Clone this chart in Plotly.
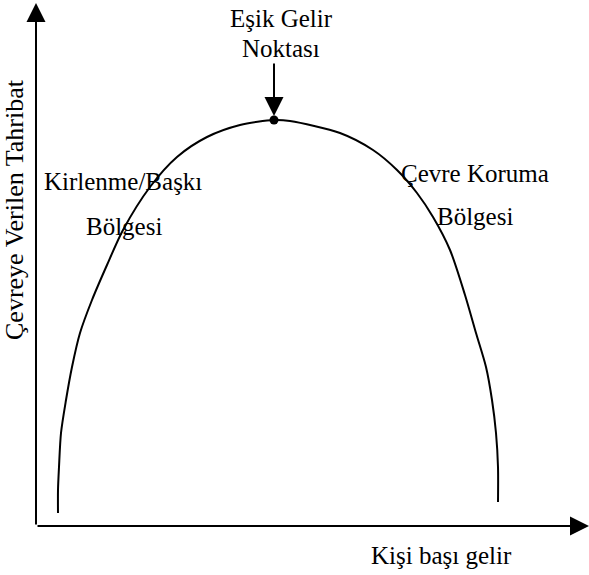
import plotly.graph_objects as go

# Environmental Kuznets curve (arbitrary units, origin at axes crossing)
income = [22, 22, 23, 25, 30, 36, 44, 56, 71, 87, 114, 141, 171, 204, 238,
          254, 304, 337, 361, 381, 397, 414, 429, 440, 450, 456, 460, 462, 462]
damage = [13, 36, 59, 93, 126, 159, 193, 226, 261, 296, 339, 369, 389, 401, 406,
          405, 393, 376, 356, 333, 309, 276, 231, 193, 159, 126, 93, 59, 24]

peak_x = [238]
peak_y = [406]

# visible range of the canvas (axes cross at 0,0)
x_range = [-36, 553]
y_range = [-49, 526]
x_axis_end = 553
y_axis_end = 523

title_y = "Çevreye Verilen Tahribat"
title_x = "Kişi başı gelir"
peak_label = ["Eşik Gelir", "Noktası"]
left_label = ["Kirlenme/Başkı", "Bölgesi"]
right_label = ["Çevre Koruma", "Bölgesi"]

FONT = dict(family="Liberation Serif", size=25, color="black")

fig = go.Figure()
fig.add_trace(go.Scatter(x=income, y=damage, mode="lines",
                         line=dict(color="black", width=2, shape="spline", smoothing=0.8),
                         hoverinfo="skip", showlegend=False))
fig.add_trace(go.Scatter(x=peak_x, y=peak_y, mode="markers",
                         marker=dict(color="black", size=9),
                         hoverinfo="skip", showlegend=False, cliponaxis=False))

ARROW = dict(xref="x", yref="y", axref="x", ayref="y", text="", showarrow=True,
             arrowhead=2, arrowsize=1.9, arrowwidth=2, arrowcolor="black")
ann = []
ann.append(dict(x=0, y=y_axis_end, ax=0, ay=0, **ARROW))
ann.append(dict(x=x_axis_end, y=0, ax=0, ay=0, **ARROW))
ann.append(dict(x=peak_x[0], y=peak_y[0] + 4, ax=peak_x[0], ay=peak_y[0] + 58, **ARROW))


def txt(s, x, y, angle=0, size=25):
    f = dict(FONT, size=size)
    return dict(x=x, y=y, xref="x", yref="y", text=s, showarrow=False, font=f,
                xanchor="center", yanchor="middle", textangle=angle)


ann.append(txt(peak_label[0], 245, 508))
ann.append(txt(peak_label[1], 245, 478))
ann.append(txt(left_label[0], 87, 345))
ann.append(txt(left_label[1], 88, 300))
ann.append(txt(right_label[0], 439, 353))
ann.append(txt(right_label[1], 439, 310))
ann.append(txt(title_y, -22, 316, angle=-90, size=26))
ann.append(txt(title_x, 405, -29))

fig.update_layout(
    width=589, height=575,
    margin=dict(l=0, r=0, t=0, b=0, pad=0),
    paper_bgcolor="white", plot_bgcolor="white",
    xaxis=dict(range=x_range, visible=False, fixedrange=True),
    yaxis=dict(range=y_range, visible=False, fixedrange=True),
    annotations=ann,
    showlegend=False,
)

fig.write_html("out.html", config={"displayModeBar": False},
               post_script="document.body.style.margin='0';")
